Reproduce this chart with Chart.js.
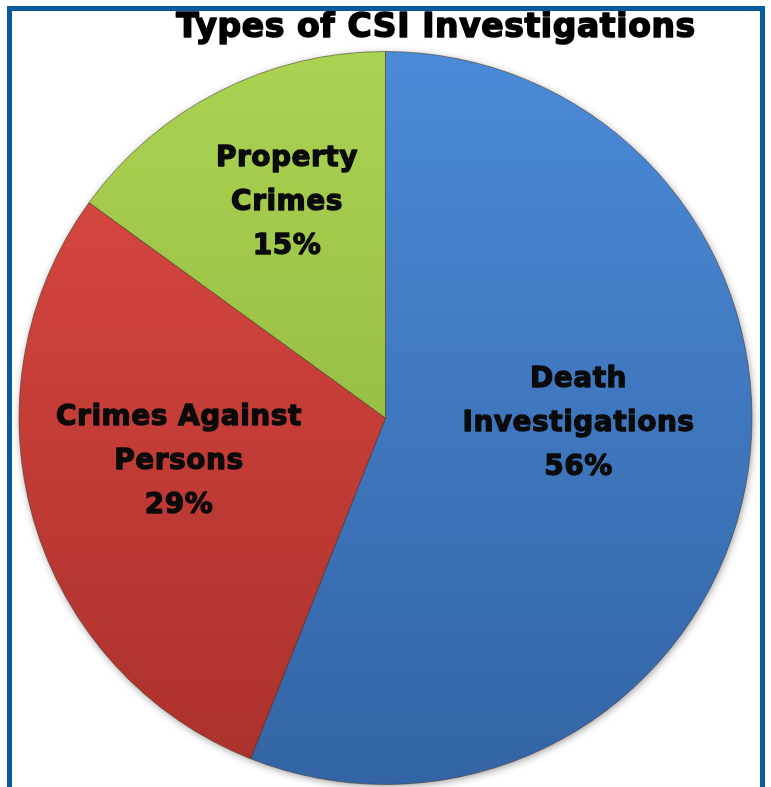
<!DOCTYPE html>
<html>
<head>
<meta charset="utf-8">
<title>Types of CSI Investigations</title>
<script src="https://cdn.jsdelivr.net/npm/chart.js"></script>
<style>
  html, body { margin: 0; padding: 0; background: #fff; overflow: hidden; }
  #wrap { position: relative; width: 771px; height: 787px; }
  #frame {
    position: absolute; left: 7px; top: 6px; width: 748px; height: 800px;
    border: 5px solid #0b5a9f; box-sizing: content-box; pointer-events: none;
  }
  canvas { position: absolute; left: 0; top: 0; }
</style>
</head>
<body>
<div id="wrap">
  <canvas id="pie" width="771" height="787"></canvas>
  <div id="frame"></div>
</div>
<script>
const categories = ['Death Investigations', 'Crimes Against Persons', 'Property Crimes'];
const labelLines = [['Death', 'Investigations'], ['Crimes Against', 'Persons'], ['Property', 'Crimes']];
const shares = [56, 29, 15];

// slice shading, light at the top of the pie to darker at the bottom
const topColors = ['#4b8ad7', '#df4a44', '#abd351'];
const bottomColors = ['#3364a5', '#aa302b', '#86ab3b'];
// nudges for the in-slice labels (px, from the mid-angle anchor)
const labelOffsets = [[-5, -32], [-13, -13], [-7, -36]];

const sliceFill = (ctx) => {
  const area = ctx.chart.chartArea;
  const i = ctx.dataIndex;
  if (!area) return topColors[i];
  const g = ctx.chart.ctx.createLinearGradient(0, area.top, 0, area.bottom);
  g.addColorStop(0, topColors[i]);
  g.addColorStop(1, bottomColors[i]);
  return g;
};

// soft drop shadow under the whole pie
const pieShadow = {
  id: 'pieShadow',
  beforeDatasetsDraw(chart) {
    const arc = chart.getDatasetMeta(0).data[0];
    if (!arc) return;
    const ctx = chart.ctx;
    ctx.save();
    ctx.shadowColor = 'rgba(0,0,0,0.45)';
    ctx.shadowBlur = 9;
    ctx.shadowOffsetX = 1;
    ctx.shadowOffsetY = 2;
    ctx.fillStyle = '#888';
    ctx.beginPath();
    ctx.arc(arc.x, arc.y, arc.outerRadius - 1, 0, Math.PI * 2);
    ctx.fill();
    ctx.restore();
  }
};

// heavy text: fill plus a thin stroke of the same colour
const heavyText = (ctx, t, x, y, weight) => {
  ctx.lineWidth = weight;
  ctx.strokeText(t, x, y);
  ctx.fillText(t, x, y);
};

// title + three-line labels inside each slice
const pieText = {
  id: 'pieText',
  afterDatasetsDraw(chart) {
    const ctx = chart.ctx;
    ctx.save();
    ctx.fillStyle = '#000';
    ctx.strokeStyle = '#000';
    ctx.lineJoin = 'round';
    ctx.textAlign = 'center';
    ctx.textBaseline = 'alphabetic';
    ctx.font = 'bold 33px "DejaVu Sans"';
    ctx.letterSpacing = '0.6px';
    heavyText(ctx, 'Types of CSI Investigations', 436, 37, 1.6);

    ctx.font = 'bold 28px "DejaVu Sans"';
    ctx.letterSpacing = '0.5px';
    ctx.fillStyle = '#0a0a0a';
    ctx.strokeStyle = '#0a0a0a';
    ctx.textBaseline = 'middle';
    const lineGap = 44;
    chart.getDatasetMeta(0).data.forEach((arc, i) => {
      const mid = (arc.startAngle + arc.endAngle) / 2;
      const r = arc.outerRadius * 0.55;
      const x = arc.x + Math.cos(mid) * r + labelOffsets[i][0];
      const y = arc.y + Math.sin(mid) * r + labelOffsets[i][1];
      const lines = labelLines[i].concat([shares[i] + '%']);
      lines.forEach((t, k) => {
        heavyText(ctx, t, x, y + (k - 1) * lineGap, 1.3);
      });
    });
    ctx.restore();
  }
};

new Chart(document.getElementById('pie'), {
  type: 'pie',
  data: {
    labels: categories,
    datasets: [{
      data: shares,
      backgroundColor: sliceFill,
      borderColor: 'rgba(70,55,40,0.55)',
      borderWidth: 1
    }]
  },
  options: {
    responsive: false,
    animation: false,
    layout: { padding: { top: 51, bottom: 2, left: 0, right: 0 } },
    plugins: {
      legend: { display: false },
      tooltip: { enabled: false },
      title: { display: false }
    }
  },
  plugins: [pieShadow, pieText]
});
</script>
</body>
</html>
